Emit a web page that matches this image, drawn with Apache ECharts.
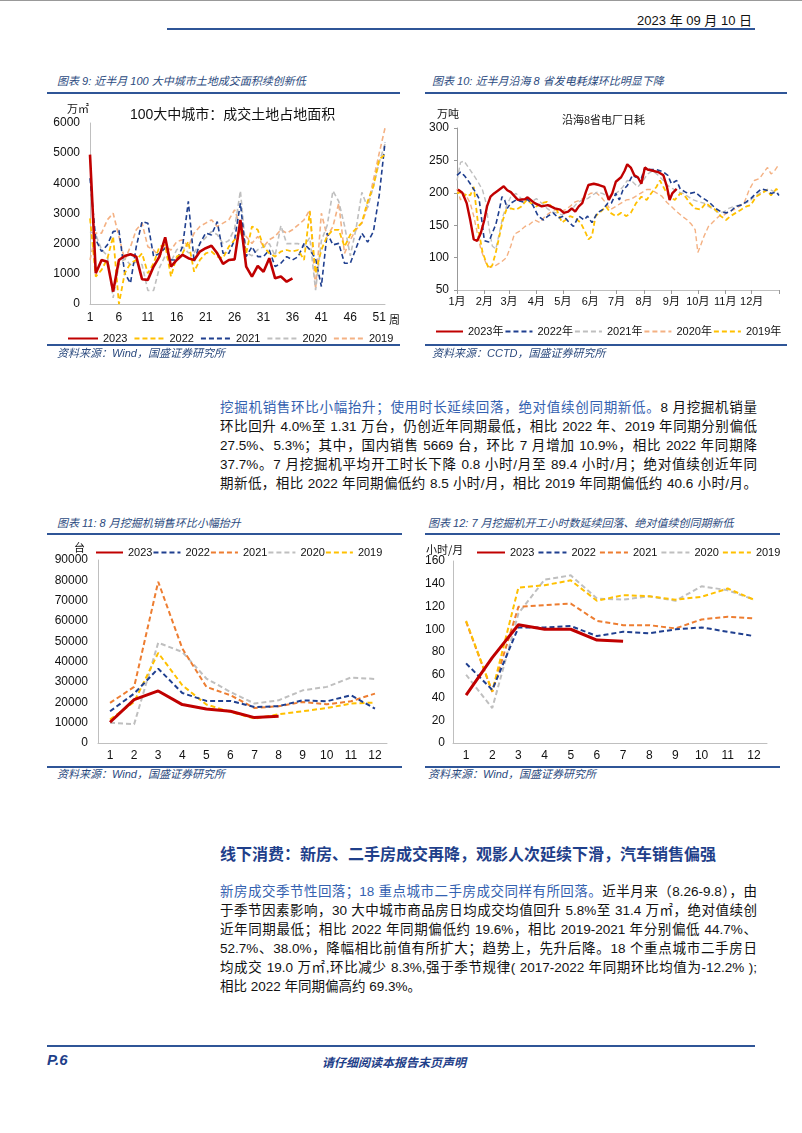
<!DOCTYPE html>
<html><head><meta charset="utf-8">
<script src="https://cdn.jsdelivr.net/npm/echarts@6/dist/echarts.min.js"></script>
<style>
body{margin:0;width:802px;height:1133px;position:relative;background:#fff;overflow:hidden;font-family:"Liberation Sans","Noto Sans CJK SC",sans-serif;color:#111}
.abs{position:absolute;white-space:nowrap}
.hl{position:absolute;height:2px;background:#2F5597}
.ct{position:absolute;white-space:nowrap;font-size:11px;font-style:italic;color:#2B4A7E;font-family:"Liberation Sans","Noto Sans CJK SC",sans-serif;line-height:14px}
.para{position:absolute;left:220px;width:537px;font-size:13.5px;color:#111}
.para div{height:19px;line-height:19px;text-align:justify;text-align-last:justify}
.para div.last{text-align-last:left}
.blue{color:#3461B0}
.chart{position:absolute}
</style></head><body>
<div class="abs" style="left:0;top:0;width:802px;height:1px;background:#999"></div>
<div class="abs" style="right:50px;top:10px;font-size:13px;">2023 年 09 月 10 日</div>
<div class="hl" style="left:167px;top:28px;width:588px;"></div>

<div class="ct" style="left:57px;top:74px;">图表 9: 近半月 100 大中城市土地成交面积续创新低</div>
<div class="hl" style="left:47px;top:92px;width:353px;"></div>
<div class="ct" style="left:432px;top:74px;">图表 10: 近半月沿海 8 省发电耗煤环比明显下降</div>
<div class="hl" style="left:425px;top:92px;width:362px;"></div>

<div class="chart" id="c9" style="left:40px;top:95px;width:360px;height:250px;"></div>
<div class="chart" id="c10" style="left:410px;top:95px;width:380px;height:250px;"></div>
<div class="abs" style="left:67px;top:100px;font-size:11px;font-family:'Noto Sans CJK SC';">万㎡</div>
<div class="abs" style="left:130px;top:103px;font-size:14px;">100大中城市：成交土地占地面积</div>
<div class="abs" style="left:389px;top:311px;font-size:11px;font-family:'Noto Sans CJK SC';">周</div>
<div class="abs" style="left:437px;top:105px;font-size:11px;font-family:'Noto Sans CJK SC';">万吨</div>
<div class="abs" style="left:562px;top:111px;font-size:11px;font-family:'Noto Sans CJK SC';">沿海8省电厂日耗</div>

<div class="hl" style="left:47px;top:344px;width:353px;"></div>
<div class="ct" style="left:57px;top:346px;">资料来源：Wind，国盛证券研究所</div>
<div class="hl" style="left:425px;top:344px;width:362px;"></div>
<div class="ct" style="left:432px;top:346px;">资料来源：CCTD，国盛证券研究所</div>

<div class="para" style="top:398px;">
<div><span class="blue">挖掘机销售环比小幅抬升；使用时长延续回落，绝对值续创同期新低。</span>8 月挖掘机销量</div>
<div>环比回升 4.0%至 1.31 万台，仍创近年同期最低，相比 2022 年、2019 年同期分别偏低</div>
<div>27.5%、5.3%；其中，国内销售 5669 台，环比 7 月增加 10.9%，相比 2022 年同期降</div>
<div>37.7%。7 月挖掘机平均开工时长下降 0.8 小时/月至 89.4 小时/月；绝对值续创近年同</div>
<div>期新低，相比 2022 年同期偏低约 8.5 小时/月，相比 2019 年同期偏低约 40.6 小时/月。</div>
</div>

<div class="ct" style="left:57px;top:516px;">图表 11: 8 月挖掘机销售环比小幅抬升</div>
<div class="hl" style="left:47px;top:533px;width:355px;"></div>
<div class="ct" style="left:428px;top:516px;">图表 12: 7 月挖掘机开工小时数延续回落、绝对值续创同期新低</div>
<div class="hl" style="left:425px;top:533px;width:355px;"></div>
<div class="chart" id="c11" style="left:40px;top:537px;width:360px;height:229px;"></div>
<div class="chart" id="c12" style="left:415px;top:537px;width:375px;height:229px;"></div>
<div class="abs" style="left:74px;top:539px;font-size:11px;font-family:'Noto Sans CJK SC';">台</div>
<div class="abs" style="left:426px;top:541px;font-size:11px;font-family:'Noto Sans CJK SC';">小时/月</div>
<div class="hl" style="left:47px;top:766px;width:355px;"></div>
<div class="ct" style="left:57px;top:767px;">资料来源：Wind，国盛证券研究所</div>
<div class="hl" style="left:425px;top:766px;width:355px;"></div>
<div class="ct" style="left:428px;top:767px;">资料来源：Wind，国盛证券研究所</div>

<div class="abs" style="left:220px;top:841px;font-size:16px;font-weight:bold;color:#1F3F8A;font-family:'Noto Sans CJK SC';">线下消费：新房、二手房成交再降，观影人次延续下滑，汽车销售偏强</div>

<div class="para" style="top:882px;">
<div><span class="blue">新房成交季节性回落；18 重点城市二手房成交同样有所回落。</span>近半月来（8.26-9.8），由</div>
<div>于季节因素影响，30 大中城市商品房日均成交均值回升 5.8%至 31.4 万㎡，绝对值续创</div>
<div>近年同期最低；相比 2022 年同期偏低约 19.6%，相比 2019-2021 年分别偏低 44.7%、</div>
<div>52.7%、38.0%，降幅相比前值有所扩大；趋势上，先升后降。18 个重点城市二手房日</div>
<div>均成交 19.0 万㎡,环比减少 8.3%,强于季节规律( 2017-2022 年同期环比均值为-12.2% );</div>
<div class="last">相比 2022 年同期偏高约 69.3%。</div>
</div>

<div class="hl" style="left:47px;top:1045px;width:708px;"></div>
<div class="abs" style="left:47px;top:1051px;font-size:15px;font-weight:bold;font-style:italic;color:#1F3F8A;">P.6</div>
<div class="abs" style="left:322px;top:1053px;font-size:12px;font-weight:bold;font-style:italic;color:#1F3F8A;font-family:'Noto Sans CJK SC';">请仔细阅读本报告末页声明</div>

<script>
// ---------- Chart 9 data: weekly land transaction area (万㎡) ----------
const weekCats = Array.from({length:52},(_,i)=>String(i+1));
const land2023 = [4950,1020,1460,1400,410,1460,1590,1650,1570,820,800,1240,1570,2210,1240,1460,1630,1520,1460,1740,1850,1930,1680,1330,1460,1480,2790,1240,910,1260,1070,1520,850,910,740,850];
const land2022 = [2840,910,1130,1500,2240,0,1020,1350,1460,1680,1020,1350,1900,1960,910,1570,1680,2070,1070,1460,1680,1740,1570,1520,1900,2130,2460,1680,2570,2460,1900,1680,1570,1740,1790,1740,1790,1460,3070,1020,1800,2240,2460,2460,1900,2300,2500,2700,3400,3900,4800,4950];
const land2021 = [4170,2130,1740,1960,2400,2440,1020,690,1900,2730,2680,1570,1680,1850,1460,1460,1900,3400,1400,2010,2350,2290,2730,1680,1680,2130,3340,1570,1900,1570,1570,1790,1240,1350,1570,1460,1570,2000,1800,1500,580,2350,1960,2010,1350,1350,1850,2350,2050,2400,3600,5350];
const land2020 = [2400,2300,1800,1600,200,1300,1500,1300,1400,1300,450,450,1200,1600,1400,1800,1900,1700,1700,2000,2200,2400,2300,2000,2100,2500,3750,1700,1600,1800,1900,2000,1600,2600,2000,2000,2000,1900,2200,460,2100,2600,3750,3400,2600,1600,2500,3700,3200,3900,4700,5300];
const land2019 = [1460,2350,2350,2790,3010,2240,1460,1900,2460,2680,1900,1790,1570,1900,1790,2070,2130,1900,2350,2570,2680,2790,2570,2680,2790,3120,2570,2240,2010,2240,1900,2130,2240,2460,2350,2460,2620,2790,3120,500,3010,2240,2570,3340,1680,2130,2460,2680,3230,4120,5000,5830];

// ---------- Chart 10 data: coastal 8 provinces daily coal burn (万吨), [day of year, value] ----------
const monthStarts = [0,31,59,90,120,151,181,212,243,273,304,334];
const monthLabels = ['1月','2月','3月','4月','5月','6月','7月','8月','9月','10月','11月','12月'];
const coal2023 = [[1,205],[2,208],[6,200],[11,184],[15,158],[19,128],[23,126],[27,138],[31,158],[34,179],[38,194],[42,199],[47,204],[53,210],[57,204],[61,201],[69,189],[77,190],[80,193],[88,184],[96,179],[103,181],[111,176],[117,174],[121,169],[126,171],[130,176],[134,171],[138,179],[142,184],[146,201],[149,212],[155,214],[161,212],[167,209],[172,189],[176,199],[180,217],[186,224],[190,234],[193,244],[197,239],[201,227],[205,224],[209,214],[213,239],[216,236],[222,234],[228,232],[234,227],[238,209],[241,189],[244,199],[249,206]];
const coal2022 = [[0,227],[4,232],[8,227],[11,222],[15,214],[21,201],[25,191],[29,148],[31,126],[36,124],[40,138],[44,151],[48,174],[51,194],[54,189],[57,176],[61,184],[67,189],[75,186],[80,190],[86,181],[92,164],[98,158],[103,164],[109,169],[115,161],[121,164],[126,156],[132,148],[138,164],[144,158],[148,164],[153,154],[159,169],[165,174],[171,184],[175,184],[180,199],[184,189],[188,204],[193,211],[199,227],[203,224],[209,222],[213,239],[218,236],[226,236],[234,232],[239,227],[243,214],[249,219],[253,206],[259,201],[264,199],[270,201],[276,194],[282,189],[287,184],[293,176],[299,171],[305,169],[310,171],[316,179],[322,181],[328,186],[333,191],[339,199],[345,206],[351,204],[356,199],[362,201],[365,196]];
const coal2021 = [[0,219],[4,247],[8,249],[13,239],[19,227],[25,214],[29,204],[33,184],[36,148],[40,118],[44,113],[48,138],[52,164],[56,179],[61,194],[67,199],[73,191],[79,189],[84,186],[90,191],[96,184],[102,176],[107,171],[113,169],[119,166],[125,169],[130,174],[136,184],[142,189],[148,191],[153,196],[159,201],[165,199],[171,194],[176,196],[182,201],[188,209],[193,219],[199,217],[205,209],[211,219],[216,229],[222,234],[228,227],[234,219],[239,211],[245,206],[251,201],[257,199],[262,194],[268,189],[274,186],[280,184],[285,179],[291,174],[297,169],[303,171],[308,176],[314,179],[320,181],[326,184],[331,186],[337,194],[343,199],[349,204],[354,206],[360,201],[365,199]];
const coal2020 = [[0,206],[4,189],[8,199],[11,194],[15,184],[19,164],[23,138],[27,113],[31,98],[34,88],[38,85],[44,88],[50,93],[56,100],[61,118],[65,136],[71,141],[77,148],[82,151],[88,158],[94,154],[100,164],[105,169],[111,174],[117,171],[123,174],[128,179],[134,186],[140,189],[146,194],[151,199],[157,201],[163,194],[169,184],[174,174],[180,179],[186,184],[192,189],[197,190],[203,195],[209,200],[215,205],[220,205],[226,200],[232,195],[238,185],[243,179],[249,171],[255,164],[261,158],[266,151],[270,143],[273,108],[276,118],[280,133],[285,148],[291,156],[297,164],[303,166],[308,171],[314,174],[320,179],[326,186],[331,204],[337,219],[343,222],[349,234],[352,239],[356,229],[360,234],[364,242]];
const coal2019 = [[0,199],[4,201],[8,194],[11,199],[15,196],[19,209],[22,174],[25,138],[29,108],[33,93],[36,83],[40,88],[44,108],[48,133],[52,158],[56,174],[61,176],[67,174],[73,179],[79,189],[84,184],[90,179],[96,184],[102,186],[107,179],[113,174],[119,154],[123,158],[128,164],[134,161],[140,154],[146,138],[149,128],[153,133],[157,164],[163,171],[169,179],[174,169],[180,164],[186,169],[192,164],[197,169],[203,184],[209,194],[215,189],[220,199],[226,209],[230,219],[236,204],[241,194],[247,189],[253,199],[259,194],[264,184],[270,176],[276,174],[282,184],[287,179],[293,174],[299,164],[305,158],[310,164],[316,169],[322,174],[328,179],[333,181],[339,194],[345,199],[351,204],[356,196],[362,206],[365,201]];

// ---------- Chart 11 data: monthly excavator sales (台) ----------
const monthCats = ['1','2','3','4','5','6','7','8','9','10','11','12'];
const sales2023 = [10200,21300,25600,18900,16700,15600,12500,13100];
const sales2022 = [15600,24300,36600,24600,20700,20700,17700,18100,21000,20500,23500,16900];
const sales2021 = [19700,27600,79300,46500,27600,23500,17200,18100,20200,19000,20500,24300];
const sales2020 = [10000,9200,49300,44800,31700,25100,19400,21000,25900,27600,32200,31500];
const sales2019 = [11500,20200,44300,28400,18900,15300,12000,14100,15600,17200,19400,19900];

// ---------- Chart 12 data: excavator working hours (小时/月) ----------
const hours2023 = [42,75,104,100,100,90.5,89.4];
const hours2022 = [70,46.7,101.6,101.6,102.8,94,97.8,96.4,99.9,101.6,97.8,94];
const hours2021 = [106.6,45,119.7,121.2,122.6,107.4,103.6,103.6,100.7,108.6,111,109.5];
const hours2020 = [60,30.7,113.9,143.6,147.4,127,126,129,125,137.8,134.3,126];
const hours2019 = [107.4,45.3,136.6,138.7,143,125,130,129,126,128.5,135.8,126];

const RED='#C00000', NAVY='#1F3F8F', ORANGE='#ED7D31', GRAY='#BFBFBF', YELLOW='#FFC000', PEACH='#F4B183';
const FONT='"Liberation Sans","Noto Sans CJK SC",sans-serif';
const axisLineGray={lineStyle:{color:'#BFBFBF',width:1}};
const plain=v=>String(v);

function ser(name,data,color,solid,w,z){
  return {name,type:'line',data,symbol:'none',showSymbol:false,z:z||2,
    lineStyle:{color,width:w,type:solid?'solid':[5,3]},itemStyle:{color},animation:false};
}
function legend(left,top,gap,iw,fs,names){
  return {left,top,width:440,itemGap:gap,itemWidth:iw,itemHeight:10,data:names,
    itemStyle:{opacity:0},
    textStyle:{fontSize:fs,color:'#111',fontFamily:FONT}};
}

// Chart 9
const c9=echarts.init(document.getElementById('c9'));
c9.setOption({animation:false,
  grid:{left:50,right:15,top:28,bottom:41},
  legend:legend(22,233,6,30,11,['2023','2022','2021','2020','2019']),
  xAxis:{type:'category',data:weekCats,boundaryGap:false,axisLine:axisLineGray,axisTick:{show:false},
    axisLabel:{interval:4,fontSize:12,color:'#111',fontFamily:FONT,margin:8}},
  yAxis:{type:'value',min:0,max:6000,interval:1000,axisLine:{show:true,lineStyle:{color:'#BFBFBF'}},splitLine:{show:false},
    axisLabel:{fontSize:12,color:'#111',fontFamily:FONT,margin:10,formatter:plain}},
  series:[ser('2019',land2019,PEACH,false,1.6),ser('2020',land2020,GRAY,false,1.6),ser('2021',land2021,NAVY,false,1.6),
    ser('2022',land2022,YELLOW,false,1.8),ser('2023',land2023,RED,true,2.6,5)]
});

// Chart 10
const c10=echarts.init(document.getElementById('c10'));
c10.setOption({animation:false,
  grid:{left:47,right:11,top:33,bottom:55},
  legend:legend(20,226,1,27,11,['2023年','2022年','2021年','2020年','2019年']),
  xAxis:{type:'value',min:0,max:365,axisLine:axisLineGray,splitLine:{show:false},
    axisTick:{show:true,customValues:monthStarts.concat([365]),length:4,lineStyle:{color:'#999'}},
    axisLabel:{customValues:monthStarts,fontSize:11,color:'#111',fontFamily:FONT,margin:6,
      formatter:(v)=>monthLabels[monthStarts.indexOf(v)]||''}},
  yAxis:{type:'value',min:50,max:300,interval:50,axisLine:{show:true,lineStyle:{color:'#999'}},axisTick:{show:true,length:3},splitLine:{show:false},
    axisLabel:{fontSize:12,color:'#111',fontFamily:FONT,margin:8,formatter:plain}},
  series:[ser('2020年',coal2020,PEACH,false,1.4),ser('2021年',coal2021,GRAY,false,1.4),ser('2019年',coal2019,YELLOW,false,1.8),
    ser('2022年',coal2022,NAVY,false,1.6),ser('2023年',coal2023,RED,true,2.4,5)]
});

// Chart 11
const c11=echarts.init(document.getElementById('c11'));
c11.setOption({animation:false,
  grid:{left:58,right:13,top:23,bottom:23},
  legend:legend(50,5,0,27,11,['2023','2022','2021','2020','2019']),
  xAxis:{type:'category',data:monthCats,boundaryGap:true,axisLine:axisLineGray,axisTick:{show:false},
    axisLabel:{fontSize:12,color:'#111',fontFamily:FONT,margin:7}},
  yAxis:{type:'value',min:0,max:90000,interval:10000,axisLine:{show:true,lineStyle:{color:'#BFBFBF'}},splitLine:{show:false},
    axisLabel:{fontSize:12,color:'#111',fontFamily:FONT,margin:10,formatter:plain}},
  series:[ser('2020',sales2020,GRAY,false,2),ser('2019',sales2019,YELLOW,false,2),ser('2021',sales2021,ORANGE,false,2),
    ser('2022',sales2022,NAVY,false,2),ser('2023',sales2023,RED,true,3,5)]
});

// Chart 12
const c12=echarts.init(document.getElementById('c12'));
c12.setOption({animation:false,
  grid:{left:38,right:23,top:24,bottom:23},
  legend:legend(56,5,3,28,11,['2023','2022','2021','2020','2019']),
  xAxis:{type:'category',data:monthCats,boundaryGap:true,axisLine:axisLineGray,axisTick:{show:false},
    axisLabel:{fontSize:12,color:'#111',fontFamily:FONT,margin:7}},
  yAxis:{type:'value',min:0,max:160,interval:20,axisLine:{show:true,lineStyle:{color:'#BFBFBF'}},splitLine:{show:false},
    axisLabel:{fontSize:12,color:'#111',fontFamily:FONT,margin:8,formatter:plain}},
  series:[ser('2020',hours2020,GRAY,false,2),ser('2021',hours2021,ORANGE,false,2),ser('2019',hours2019,YELLOW,false,2),
    ser('2022',hours2022,NAVY,false,2),ser('2023',hours2023,RED,true,3,5)]
});
</script>
</body></html>
